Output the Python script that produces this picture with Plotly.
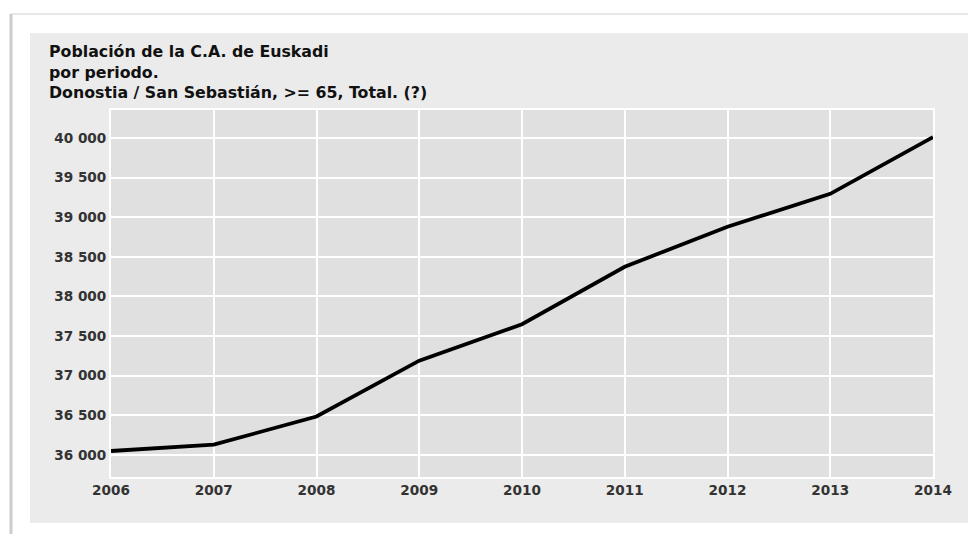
import plotly.graph_objects as go

years = [2006, 2007, 2008, 2009, 2010, 2011, 2012, 2013, 2014]
population = [36050, 36130, 36485, 37190, 37650, 38375, 38880, 39295, 40010]
y_ticks = [36000, 36500, 37000, 37500, 38000, 38500, 39000, 39500, 40000]
y_tick_labels = ["36 000", "36 500", "37 000", "37 500", "38 000", "38 500", "39 000", "39 500", "40 000"]
title_lines = ["Población de la C.A. de Euskadi", "por periodo.", "Donostia / San Sebastián, >= 65, Total. (?)"]

# page body has an 8px margin, so work in window coords and shift by OFF
OFF = 8
W, H = 976 - OFF, 534 - OFF
L = 111 - OFF
T = 110 - OFF
R = W - (933 - OFF)
B = H - (477 - OFF)
pw, ph = W - L - R, H - T - B


def px(x):
    return (x - OFF - L) / pw


def py(y):
    return (H - B - (y - OFF)) / ph


fig = go.Figure()
fig.add_trace(go.Scatter(
    x=years, y=population, mode="lines",
    line=dict(color="#000000", width=3.8),
    hoverinfo="skip", showlegend=False,
))

shapes = [
    dict(type="rect", xref="paper", yref="paper", layer="below",
         x0=px(30), x1=px(972), y0=py(523), y1=py(33),
         fillcolor="#ebebeb", line=dict(width=0)),
    dict(type="rect", xref="paper", yref="paper", layer="below",
         x0=0, x1=1, y0=0, y1=1,
         fillcolor="#e0e0e0", line=dict(width=0)),
    dict(type="line", xref="paper", yref="paper", layer="below",
         x0=px(11), x1=px(980), y0=py(14), y1=py(14),
         line=dict(color="#e8e8e8", width=2)),
    dict(type="line", xref="paper", yref="paper", layer="below",
         x0=px(11), x1=px(11), y0=py(14), y1=py(540),
         line=dict(color="#cccccc", width=3)),
]

fig.update_layout(
    width=W, height=H,
    margin=dict(l=L, r=R, t=T, b=B),
    paper_bgcolor="#ffffff",
    plot_bgcolor="rgba(0,0,0,0)",
    shapes=shapes,
    annotations=[dict(
        xref="paper", yref="paper", x=px(47), y=py(40),
        xanchor="left", yanchor="top", align="left", showarrow=False,
        text="<br>".join(title_lines),
        font=dict(family="DejaVu Sans", size=15.8, color="#111111", weight="bold"),
    )],
    font=dict(family="DejaVu Sans"),
)

tick_font = dict(family="DejaVu Sans", size=13.6, color="#333333", weight="bold")

fig.update_xaxes(
    range=[2006, 2014], tickmode="array", tickvals=years,
    ticktext=[str(y) for y in years],
    showgrid=True, gridcolor="#ffffff", gridwidth=2,
    showline=True, linecolor="#ffffff", linewidth=2, mirror=True,
    zeroline=False, ticks="",
    tickfont=tick_font,
)
fig.update_yaxes(
    range=[35722, 40353], tickmode="array", tickvals=y_ticks,
    ticktext=y_tick_labels,
    showgrid=True, gridcolor="#ffffff", gridwidth=2,
    showline=True, linecolor="#ffffff", linewidth=2, mirror=True,
    zeroline=False, ticks="",
    tickfont=tick_font,
)

fig.write_html("out.html")
